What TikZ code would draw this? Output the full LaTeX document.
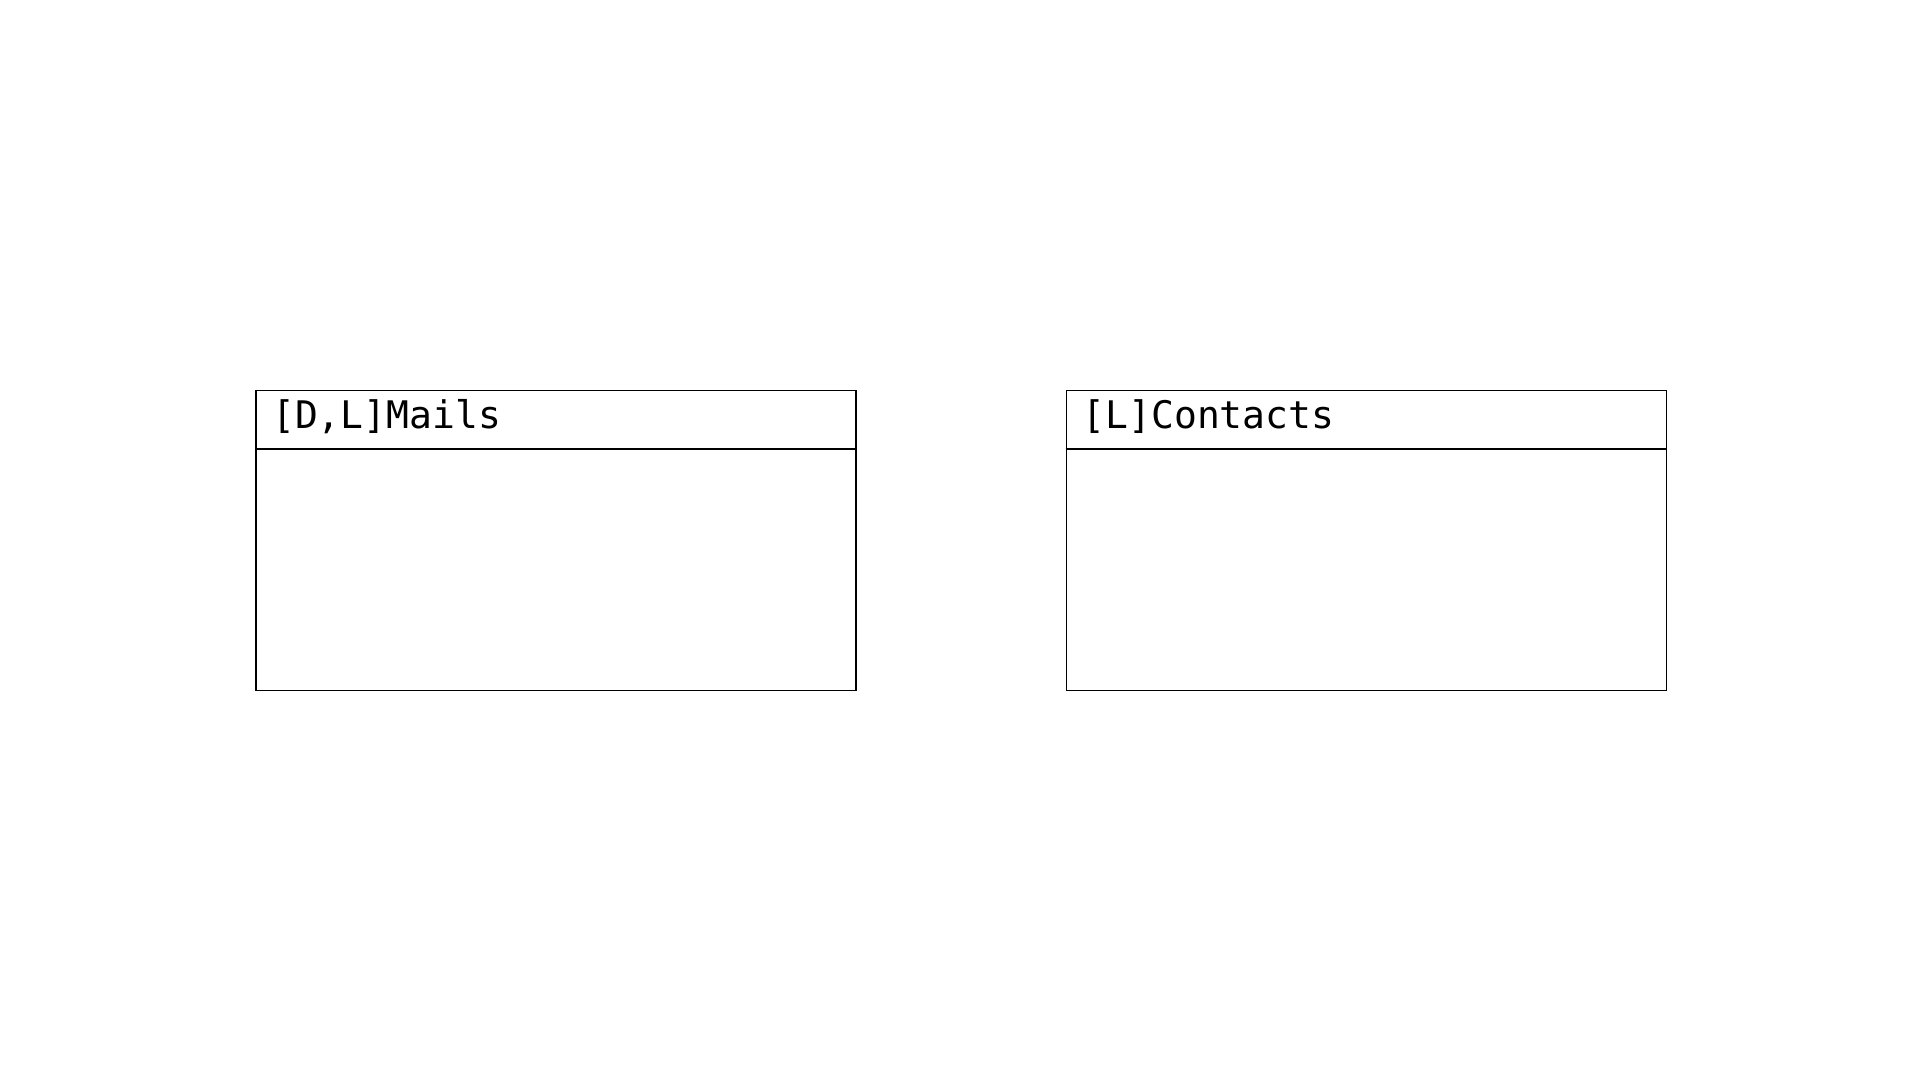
\documentclass[tikz,border=0pt]{standalone}
\usepackage{fontspec}
\setmonofont{DejaVu Sans Mono}
\begin{document}
\begin{tikzpicture}[x=1pt,y=-1pt,
  box/.style={draw=black,line width=1.5pt,minimum width=600pt,minimum height=300pt,inner sep=0pt,anchor=north west},
  title/.style={anchor=base west,inner sep=0pt,font=\ttfamily\fontsize{38}{44}\selectfont}]
\useasboundingbox[fill=white] (0,0) rectangle (1920,1080);
\node[box] (mails) at (255,389.5) {};
\draw[line width=1.5pt] (255,449) coordinate (m1) -- (855,449) coordinate (m2);
\node[title] (mt) at (272,428) {[D,L]Mails};
\node[box] (contacts) at (1065.5,389.5) {};
\draw[line width=1.5pt] (1065.5,449) coordinate (c1) -- (1665.5,449) coordinate (c2);
\node[title] (ct) at (1082.5,428) {[L]Contacts};
\end{tikzpicture}
\end{document}
